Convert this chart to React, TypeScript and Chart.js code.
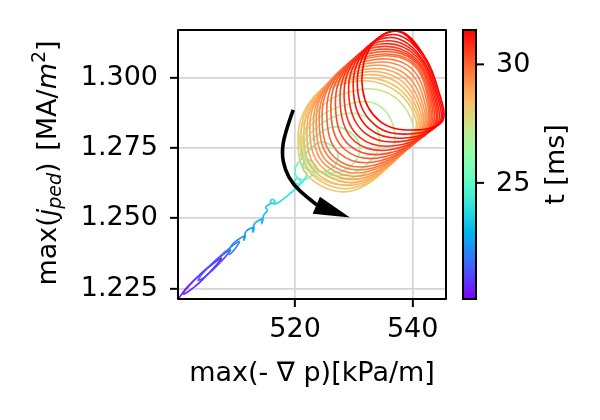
import React, { useEffect, useRef } from "react";
import { Chart, registerables } from "chart.js";
Chart.register(...registerables);

// ---------- axis / colour ranges ----------
const xMin = 500.1;
const xMax = 545.66;
const yMin = 1.2213;
const yMax = 1.317;
const tMin = 20.1;
const tMax = 31.45;
const xTicks = [520, 540];
const yTicks = [1.225, 1.25, 1.275, 1.3];
const cbTicks = [25, 30];

// ---------- trajectory: early tail (purple -> cyan) ----------
const tailX = [500.2, 501.7, 504.2, 507.5, 505.3, 502.8, 501.0, 502.7, 505.7, 509.0, 507.3, 504.8, 503.5, 505.2, 507.7, 510.5, 509.8, 508.8, 509.2, 511.5, 511.3, 511.7, 513.0, 512.8, 513.2, 514.5, 514.3, 514.7, 515.3, 515.0, 515.8, 516.6, 516.2, 515.8, 516.8, 517.8, 518.8, 519.6, 520.4, 521.0, 520.4, 519.9, 520.8, 521.6, 522.0, 521.4];
const tailY = [1.2215, 1.2256, 1.2306, 1.2359, 1.2304, 1.2254, 1.2231, 1.2276, 1.2335, 1.2388, 1.2343, 1.2294, 1.228, 1.2325, 1.2374, 1.2418, 1.2392, 1.2372, 1.2404, 1.2438, 1.2422, 1.2454, 1.2467, 1.2451, 1.2483, 1.2497, 1.2481, 1.2513, 1.2528, 1.254, 1.2552, 1.2556, 1.2568, 1.2558, 1.2552, 1.2566, 1.2582, 1.2596, 1.2612, 1.2626, 1.2642, 1.263, 1.2622, 1.2638, 1.266, 1.2672];
const tailT = [20.1, 20.22, 20.34, 20.46, 20.58, 20.7, 20.82, 20.94, 21.06, 21.18, 21.3, 21.42, 21.54, 21.66, 21.78, 21.9, 22.0, 22.1, 22.2, 22.3, 22.4, 22.5, 22.6, 22.7, 22.8, 22.95, 23.1, 23.25, 23.35, 23.42, 23.5, 23.58, 23.65, 23.72, 23.8, 23.88, 23.96, 24.04, 24.12, 24.2, 24.28, 24.36, 24.44, 24.52, 24.6, 24.68];

// ---------- trajectory: limit-cycle loops (green -> orange -> red) ----------
const loopT = [24.9, 25.5, 26.0, 26.5, 27.0, 27.5, 28.2, 28.4, 28.6, 28.8, 29.0, 29.2, 29.4, 29.6, 29.8, 30.0, 30.2, 30.4, 30.6, 30.8, 31.0, 31.15, 31.3, 31.45];
const loopX = [
  [521.7, 522.9, 523.6, 522.9, 521.5, 520.3, 520.0, 520.5],
  [523.9, 526.3, 527.3, 526.3, 523.9, 521.7, 520.8, 521.7],
  [525.9, 529.3, 531.0, 529.7, 526.3, 522.9, 521.3, 522.5],
  [527.6, 532.4, 534.4, 532.7, 528.5, 523.9, 521.3, 523.0],
  [528.5, 534.1, 537.0, 535.3, 529.7, 524.2, 521.2, 523.4],
  [527.6, 535.3, 540.0, 537.8, 530.2, 523.4, 520.8, 522.9],
  [526.8, 535.3, 540.5, 538.8, 530.2, 522.5, 520.5, 522.5],
  [527.3, 535.8, 540.8, 539.2, 530.6, 523.0, 521.0, 523.0],
  [527.9, 536.4, 541.1, 539.6, 531.0, 523.6, 521.5, 523.5],
  [528.4, 536.9, 541.4, 540.0, 531.5, 524.1, 522.0, 524.0],
  [528.9, 537.4, 541.7, 540.4, 531.9, 524.7, 522.5, 524.5],
  [529.4, 537.9, 542.0, 540.7, 532.3, 525.2, 523.1, 525.0],
  [530.0, 538.5, 542.3, 541.1, 532.7, 525.7, 523.6, 525.4],
  [530.5, 539.0, 542.6, 541.5, 533.2, 526.3, 524.1, 525.9],
  [531.0, 539.5, 542.8, 541.8, 533.6, 526.8, 524.6, 526.4],
  [531.7, 539.7, 543.0, 542.2, 534.3, 527.6, 525.4, 527.1],
  [532.4, 540.0, 543.2, 542.5, 535.0, 528.5, 526.1, 527.8],
  [533.1, 540.2, 543.4, 542.9, 535.7, 529.3, 526.9, 528.5],
  [533.8, 540.4, 543.6, 543.3, 536.4, 530.2, 527.7, 529.2],
  [534.5, 540.7, 543.8, 543.6, 537.2, 531.0, 528.4, 529.9],
  [535.2, 540.9, 544.0, 544.0, 537.9, 531.9, 529.2, 530.6],
  [535.9, 541.1, 544.2, 544.4, 538.6, 532.7, 530.0, 531.3],
  [536.6, 541.4, 544.4, 544.7, 539.3, 533.6, 530.7, 532.0],
  [537.3, 541.6, 544.6, 545.1, 540.0, 534.4, 531.5, 532.7, 537.3, 541.8],
];
const loopY = [
  [1.2708, 1.2701, 1.2679, 1.2654, 1.2637, 1.2647, 1.2672, 1.2697],
  [1.2768, 1.2758, 1.2722, 1.2679, 1.2665, 1.2679, 1.2715, 1.2754],
  [1.2822, 1.2807, 1.275, 1.269, 1.2661, 1.2679, 1.2736, 1.28],
  [1.2868, 1.2857, 1.2779, 1.2701, 1.2654, 1.2672, 1.275, 1.2839],
  [1.2903, 1.2903, 1.2797, 1.2715, 1.2644, 1.2665, 1.2761, 1.2868],
  [1.2939, 1.295, 1.2835, 1.2743, 1.2626, 1.2654, 1.2772, 1.2893],
  [1.2971, 1.2974, 1.2855, 1.276, 1.2601, 1.2644, 1.2779, 1.2914],
  [1.2983, 1.2984, 1.2861, 1.2765, 1.2612, 1.2653, 1.2788, 1.2924],
  [1.2994, 1.2995, 1.2866, 1.277, 1.2623, 1.2662, 1.2797, 1.2934],
  [1.3006, 1.3005, 1.2872, 1.2775, 1.2634, 1.2671, 1.2806, 1.2943],
  [1.3017, 1.3015, 1.2878, 1.278, 1.2645, 1.268, 1.2815, 1.2953],
  [1.3029, 1.3025, 1.2884, 1.2785, 1.2656, 1.2689, 1.2824, 1.2963],
  [1.304, 1.3036, 1.2889, 1.279, 1.2668, 1.2697, 1.2832, 1.2973],
  [1.3052, 1.3046, 1.2895, 1.2795, 1.2679, 1.2706, 1.2841, 1.2982],
  [1.3063, 1.3056, 1.29, 1.28, 1.269, 1.2715, 1.285, 1.2992],
  [1.3074, 1.306, 1.2904, 1.2805, 1.2704, 1.273, 1.2862, 1.3005],
  [1.3086, 1.3064, 1.2909, 1.281, 1.2718, 1.2744, 1.2874, 1.3017],
  [1.3097, 1.3067, 1.2913, 1.2815, 1.2731, 1.2759, 1.2886, 1.303],
  [1.3109, 1.3071, 1.2918, 1.282, 1.2745, 1.2773, 1.2898, 1.3043],
  [1.312, 1.3075, 1.2922, 1.2826, 1.2759, 1.2788, 1.291, 1.3056],
  [1.3131, 1.3079, 1.2926, 1.2831, 1.2773, 1.2803, 1.2921, 1.3068],
  [1.3143, 1.3082, 1.2931, 1.2836, 1.2786, 1.2817, 1.2933, 1.3081],
  [1.3154, 1.3086, 1.2935, 1.2841, 1.28, 1.2832, 1.2945, 1.3093],
  [1.3166, 1.309, 1.294, 1.2846, 1.2814, 1.2846, 1.2957, 1.3106, 1.3166, 1.3085],
];

// ---------- annotation arrow (data coordinates) ----------
const arrowX = [519.69, 518.28, 517.72, 518.28, 519.69, 521.97, 523.67];
const arrowY = [1.2886, 1.2804, 1.2733, 1.2672, 1.2619, 1.2577, 1.2548];
const headX = [529.33, 524.23, 522.99];
const headY = [1.2503, 1.2577, 1.2516];

const FONT = '"DejaVu Sans", sans-serif';
const FS = 27;

function cmap(t: number): string {
  const x = Math.min(1, Math.max(0, (t - tMin) / (tMax - tMin)));
  const cl = (v: number) => Math.round(255 * Math.min(1, Math.max(0, v)));
  return `rgb(${cl(Math.abs(2 * x - 0.5))},${cl(Math.sin(Math.PI * x))},${cl(Math.cos((Math.PI * x) / 2))})`;
}

const points: { x: number; y: number }[] = [];
const pointT: number[] = [];
tailX.forEach((v, i) => {
  points.push({ x: v, y: tailY[i] });
  pointT.push(tailT[i]);
});
loopX.forEach((lx, k) => {
  lx.forEach((v, j) => {
    points.push({ x: v, y: loopY[k][j] });
    pointT.push(loopT[k]);
  });
});

const overlay = {
  id: "overlay",
  afterDatasetsDraw(chart: any) {
    const { ctx, chartArea: ca, scales } = chart;
    const xs = scales.x;
    const ys = scales.y;
    ctx.save();
    const P = arrowX.map((v, i) => [xs.getPixelForValue(v), ys.getPixelForValue(arrowY[i])]);
    ctx.strokeStyle = "#000";
    ctx.lineWidth = 3.6;
    ctx.lineJoin = "round";
    ctx.beginPath();
    ctx.moveTo(P[0][0], P[0][1]);
    for (let i = 1; i < P.length - 1; i++) {
      const mx = (P[i][0] + P[i + 1][0]) / 2;
      const my = (P[i][1] + P[i + 1][1]) / 2;
      ctx.quadraticCurveTo(P[i][0], P[i][1], mx, my);
    }
    ctx.lineTo(P[P.length - 1][0], P[P.length - 1][1]);
    ctx.stroke();
    ctx.fillStyle = "#000";
    ctx.beginPath();
    headX.forEach((v, i) => {
      const px = xs.getPixelForValue(v);
      const py = ys.getPixelForValue(headY[i]);
      if (i === 0) ctx.moveTo(px, py);
      else ctx.lineTo(px, py);
    });
    ctx.closePath();
    ctx.fill();
    ctx.lineWidth = 2;
    ctx.strokeStyle = "#000";
    ctx.strokeRect(ca.left, ca.top, ca.right - ca.left, ca.bottom - ca.top);
    ctx.restore();
  },
  afterDraw(chart: any) {
    const { ctx, chartArea: ca } = chart;
    ctx.save();
    ctx.fillStyle = "#000";
    ctx.font = `${FS}px ${FONT}`;
    ctx.textAlign = "center";
    ctx.textBaseline = "alphabetic";
    ctx.fillText("max(- \u2207 p)[kPa/m]", (ca.left + ca.right) / 2, 381);

    const parts = [
      { t: "max(", it: false, s: 1, dy: 0 },
      { t: "j", it: true, s: 1, dy: 0 },
      { t: "ped", it: true, s: 0.7, dy: 0.17 * FS },
      { t: ")", it: false, s: 1, dy: 0 },
      { t: " [MA/", it: false, s: 1, dy: 0 },
      { t: "m", it: true, s: 1, dy: 0 },
      { t: "2", it: false, s: 0.7, dy: -0.4 * FS },
      { t: "]", it: false, s: 1, dy: 0 },
    ];
    const fontOf = (p: any) => `${p.it ? "italic " : ""}${Math.round(FS * p.s)}px ${FONT}`;
    let total = 0;
    parts.forEach((p) => {
      ctx.font = fontOf(p);
      total += ctx.measureText(p.t).width;
    });
    ctx.save();
    ctx.translate(56, (ca.top + ca.bottom) / 2);
    ctx.rotate(-Math.PI / 2);
    ctx.textAlign = "left";
    let cx = -total / 2;
    parts.forEach((p) => {
      ctx.font = fontOf(p);
      ctx.fillText(p.t, cx, p.dy);
      cx += ctx.measureText(p.t).width + (p.t === ")" ? 3 : 0);
    });
    ctx.restore();

    const cbL = 463;
    const cbR = 476;
    const cbT = ca.top;
    const cbB = ca.bottom;
    const grad = ctx.createLinearGradient(0, cbB, 0, cbT);
    for (let i = 0; i <= 40; i++) {
      grad.addColorStop(i / 40, cmap(tMin + (i / 40) * (tMax - tMin)));
    }
    ctx.fillStyle = grad;
    ctx.fillRect(cbL, cbT, cbR - cbL, cbB - cbT);
    ctx.strokeStyle = "#000";
    ctx.lineWidth = 2;
    ctx.strokeRect(cbL, cbT, cbR - cbL, cbB - cbT);
    ctx.fillStyle = "#000";
    ctx.font = `${FS}px ${FONT}`;
    ctx.textAlign = "left";
    ctx.textBaseline = "middle";
    cbTicks.forEach((v) => {
      const py = cbB - ((v - tMin) / (tMax - tMin)) * (cbB - cbT);
      ctx.beginPath();
      ctx.moveTo(cbR, py);
      ctx.lineTo(cbR + 8, py);
      ctx.stroke();
      ctx.fillText(String(v), 496, py + 1);
    });
    ctx.save();
    ctx.translate(564, (cbT + cbB) / 2);
    ctx.rotate(-Math.PI / 2);
    ctx.textAlign = "center";
    ctx.textBaseline = "alphabetic";
    ctx.fillText("t [ms]", 0, 0);
    ctx.restore();
    ctx.restore();
  },
};

export default function App() {
  const ref = useRef<HTMLCanvasElement>(null);
  useEffect(() => {
    Chart.defaults.font.family = FONT;
    const chart = new Chart(ref.current as HTMLCanvasElement, {
      type: "scatter",
      data: {
        datasets: [
          {
            data: points,
            showLine: true,
            pointRadius: 0,
            borderWidth: 1.6,
            tension: 0.4,
            borderColor: "red",
            segment: {
              borderColor: (c: any) => cmap(pointT[c.p0DataIndex]),
            },
          } as any,
        ],
      },
      options: {
        responsive: false,
        animation: false,
        layout: { padding: { left: 0, top: 30, right: 154, bottom: 0 } },
        plugins: { legend: { display: false }, tooltip: { enabled: false } },
        scales: {
          x: {
            type: "linear",
            min: xMin,
            max: xMax,
            afterBuildTicks: (s: any) => {
              s.ticks = xTicks.map((v) => ({ value: v }));
            },
            afterFit: (s: any) => {
              s.height = 121;
            },
            border: { display: false },
            grid: { color: "#d4d4d4", lineWidth: 1.7, drawTicks: true, tickLength: 8, tickColor: "#000", tickWidth: 2 } as any,
            ticks: {
              color: "#000",
              font: { size: FS, family: FONT },
              padding: 7,
              maxRotation: 0,
              autoSkip: false,
              callback: (v: any) => String(v),
            },
          },
          y: {
            type: "linear",
            min: yMin,
            max: yMax,
            afterBuildTicks: (s: any) => {
              s.ticks = yTicks.map((v) => ({ value: v }));
            },
            afterFit: (s: any) => {
              s.width = 178;
            },
            border: { display: false },
            grid: { color: "#d4d4d4", lineWidth: 1.7, drawTicks: true, tickLength: 8, tickColor: "#000", tickWidth: 2 } as any,
            ticks: {
              color: "#000",
              font: { size: FS, family: FONT },
              padding: 12,
              autoSkip: false,
              callback: (v: any) => Number(v).toFixed(3),
            },
          },
        },
      },
      plugins: [overlay],
    } as any);
    return () => chart.destroy();
  }, []);
  return (
    <div style={{ position: "fixed", left: 0, top: 0, width: 600, height: 420, background: "#fff" }}>
      <canvas ref={ref} width={600} height={420} style={{ display: "block", width: 600, height: 420 }} />
    </div>
  );
}
